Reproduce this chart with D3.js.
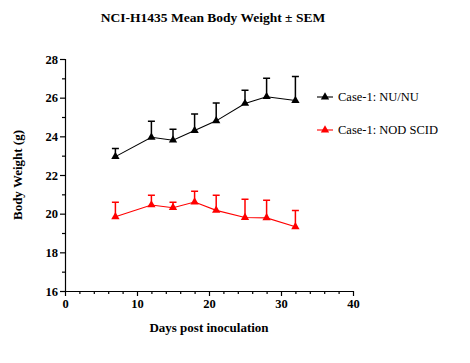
<!DOCTYPE html>
<html>
<head>
<meta charset="utf-8">
<script src="https://cdn.jsdelivr.net/npm/d3@7"></script>
<style>
  body { margin: 0; background: #fff; }
  text { font-family: "Liberation Serif", "Times New Roman", serif; }
</style>
</head>
<body>
<svg id="chart" width="470" height="363"></svg>
<script>
// days after inoculation
const days = [7, 12, 15, 18, 21, 25, 28, 32];

// mean body weight and SEM, NU/NU mice
const nuMean = [22.95, 23.95, 23.8, 24.3, 24.8, 25.7, 26.05, 25.85];
const nuSem  = [0.42, 0.83, 0.57, 0.85, 0.92, 0.69, 0.95, 1.25];

// mean body weight and SEM, NOD SCID mice
const scidMean = [19.84, 20.45, 20.31, 20.6, 20.17, 19.8, 19.78, 19.32];
const scidSem  = [0.75, 0.5, 0.28, 0.56, 0.78, 0.94, 0.91, 0.85];

const series = [
  { name: "Case-1: NU/NU", color: "#000", mean: nuMean, sem: nuSem },
  { name: "Case-1: NOD SCID", color: "#f00", mean: scidMean, sem: scidSem }
];

const svg = d3.select("#chart");

const x = d3.scaleLinear().domain([0, 40]).range([65, 353]);
const y = d3.scaleLinear().domain([16, 28]).range([291, 59]);

// title
svg.append("text")
  .attr("x", 213).attr("y", 22)
  .attr("text-anchor", "middle")
  .attr("font-weight", "bold")
  .attr("font-size", 13.5)
  .text("NCI-H1435 Mean Body Weight \u00b1 SEM");

// axes
const xAxis = svg.append("g").attr("transform", "translate(0,291)")
  .call(d3.axisBottom(x).tickValues([0, 10, 20, 30, 40]).tickSize(5).tickPadding(3));
svg.append("g").attr("transform", "translate(0,291)")
  .call(d3.axisBottom(x).tickValues(d3.range(2, 40, 2).filter(d => d % 10 !== 0)).tickSize(3).tickFormat(""))
  .select(".domain").remove();

const yAxis = svg.append("g").attr("transform", "translate(65,0)")
  .call(d3.axisLeft(y).tickValues(d3.range(16, 29, 2)).tickSize(5).tickPadding(2));
svg.append("g").attr("transform", "translate(65,0)")
  .call(d3.axisLeft(y).tickValues(d3.range(17, 28, 2)).tickSize(3).tickFormat(""))
  .select(".domain").remove();

svg.selectAll(".tick text")
  .attr("font-family", "Liberation Serif, serif")
  .attr("font-weight", "bold")
  .attr("font-size", 12.5)
  .attr("fill", "#000");
svg.selectAll(".domain, .tick line").attr("stroke", "#000").attr("stroke-width", 1.2);
// domain path without outer ticks
xAxis.select(".domain").attr("d", "M65,0.5H353.5");
yAxis.select(".domain").attr("d", "M0.5,59V291.5");

// axis titles
svg.append("text")
  .attr("x", 209).attr("y", 332)
  .attr("text-anchor", "middle")
  .attr("font-weight", "bold")
  .attr("font-size", 13)
  .text("Days post inoculation");

svg.append("text")
  .attr("transform", "translate(22,175) rotate(-90)")
  .attr("text-anchor", "middle")
  .attr("font-weight", "bold")
  .attr("font-size", 13)
  .text("Body Weight (g)");

const tri = d3.symbol().type(d3.symbolTriangle).size(30);

series.forEach(s => {
  const pts = days.map((d, i) => ({ day: d, mean: s.mean[i], sem: s.sem[i] }));
  const g = svg.append("g");

  // error bars (upper only)
  g.selectAll(".err").data(pts).enter().append("path")
    .attr("d", p => {
      const px = x(p.day), top = y(p.mean + p.sem);
      return `M${px},${y(p.mean)}V${top}M${px - 3.5},${top}H${px + 3.5}`;
    })
    .attr("stroke", s.color).attr("stroke-width", 1.5).attr("fill", "none");

  g.append("path")
    .datum(pts)
    .attr("d", d3.line().x(p => x(p.day)).y(p => y(p.mean)))
    .attr("stroke", s.color).attr("stroke-width", 1.1).attr("fill", "none");

  g.selectAll(".m").data(pts).enter().append("path")
    .attr("d", tri)
    .attr("transform", p => `translate(${x(p.day)},${y(p.mean)})`)
    .attr("fill", s.color);
});

// legend
const legend = svg.append("g");
series.forEach((s, i) => {
  const ly = 97 + i * 33;
  legend.append("line")
    .attr("x1", 317).attr("x2", 333).attr("y1", ly).attr("y2", ly)
    .attr("stroke", s.color).attr("stroke-width", 1.1);
  legend.append("path")
    .attr("d", tri)
    .attr("transform", `translate(325,${ly})`)
    .attr("fill", s.color);
  legend.append("text")
    .attr("x", 338).attr("y", ly + 4)
    .attr("font-size", 12.5)
    .text(s.name);
});
</script>
</body>
</html>
